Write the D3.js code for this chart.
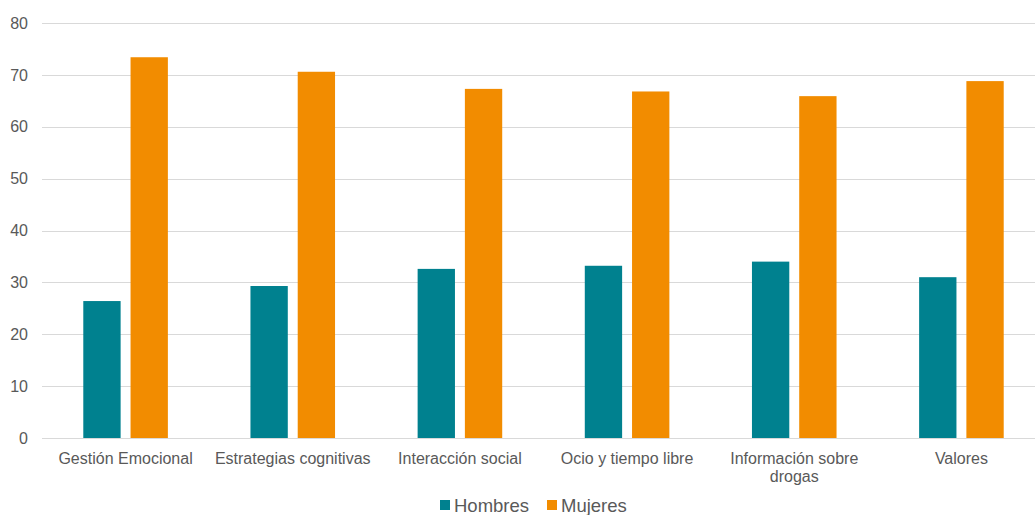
<!DOCTYPE html>
<html>
<head>
<meta charset="utf-8">
<script src="https://cdn.jsdelivr.net/npm/d3@7"></script>
<style>
  html, body { margin: 0; padding: 0; background: #fff; }
  svg { display: block; font-family: "Liberation Sans", Arial, sans-serif; }
</style>
</head>
<body>
<svg id="chart" width="1035" height="515"></svg>
<script>
const categories = [["Gestión Emocional"], ["Estrategias cognitivas"], ["Interacción social"], ["Ocio y tiempo libre"], ["Información sobre", "drogas"], ["Valores"]];
const seriesNames = ["Hombres", "Mujeres"];
const hombres = [26.4, 29.3, 32.6, 33.2, 34.0, 31.0];
const mujeres = [73.4, 70.6, 67.3, 66.8, 65.9, 68.8];
const yTicks = [0, 10, 20, 30, 40, 50, 60, 70, 80];
const colors = ["#00818F", "#F28C00"];

const svg = d3.select("#chart");
const W = 1035, H = 515;
const plotLeft = 42;
const x0 = d3.scaleBand().domain(d3.range(categories.length)).range([plotLeft, 1045]).paddingInner(0).paddingOuter(0);
const x1 = d3.scaleBand().domain(seriesNames).range([x0.bandwidth() * 0.247, x0.bandwidth() * 0.753]).paddingInner(0.21);
const y = d3.scaleLinear().domain([0, 80]).range([438, 23]);

// gridlines
svg.append("g").selectAll("line").data(yTicks).join("line")
  .attr("x1", plotLeft).attr("x2", W)
  .attr("y1", d => Math.round(y(d)) + 0.5).attr("y2", d => Math.round(y(d)) + 0.5)
  .attr("stroke", "#D9D9D9").attr("stroke-width", 1);

// y axis labels
const yAxis = d3.axisLeft(y).tickValues(yTicks).tickSize(0).tickPadding(0);
const ga = svg.append("g").attr("transform", "translate(28,0)").call(yAxis);
ga.select(".domain").remove();
ga.selectAll("text").attr("fill", "#595959").style("font-size", "16px").style("font-family", "Liberation Sans, Arial, sans-serif");

// bars
const data = [hombres, mujeres];
const groups = svg.append("g").selectAll("g").data(categories.map((c, i) => i)).join("g")
  .attr("transform", i => `translate(${x0(i)},0)`);
groups.selectAll("rect").data(i => seriesNames.map((s, k) => ({ s, k, v: data[k][i] }))).join("rect")
  .attr("x", d => x1(d.s)).attr("width", x1.bandwidth())
  .attr("y", d => y(d.v)).attr("height", d => y(0) - y(d.v))
  .attr("fill", d => colors[d.k]);

// x labels
const xl = svg.append("g").selectAll("text").data(categories).join("text")
  .attr("x", (d, i) => x0(i) + x0.bandwidth() / 2)
  .attr("y", 464)
  .attr("text-anchor", "middle")
  .attr("fill", "#595959")
  .style("font-size", "16px");
xl.selectAll("tspan").data(d => d).join("tspan")
  .attr("x", function() { return d3.select(this.parentNode).attr("x"); })
  .attr("dy", (d, j) => j === 0 ? 0 : 18)
  .text(d => d);

// legend
const legend = svg.append("g");
const legendX = [440, 547];
seriesNames.forEach((s, k) => {
  legend.append("rect").attr("x", legendX[k]).attr("y", 500).attr("width", 10).attr("height", 10).attr("fill", colors[k]);
  legend.append("text").attr("x", legendX[k] + 14).attr("y", 512).attr("fill", "#595959")
    .style("font-size", "18.5px").text(s);
});
</script>
</body>
</html>
